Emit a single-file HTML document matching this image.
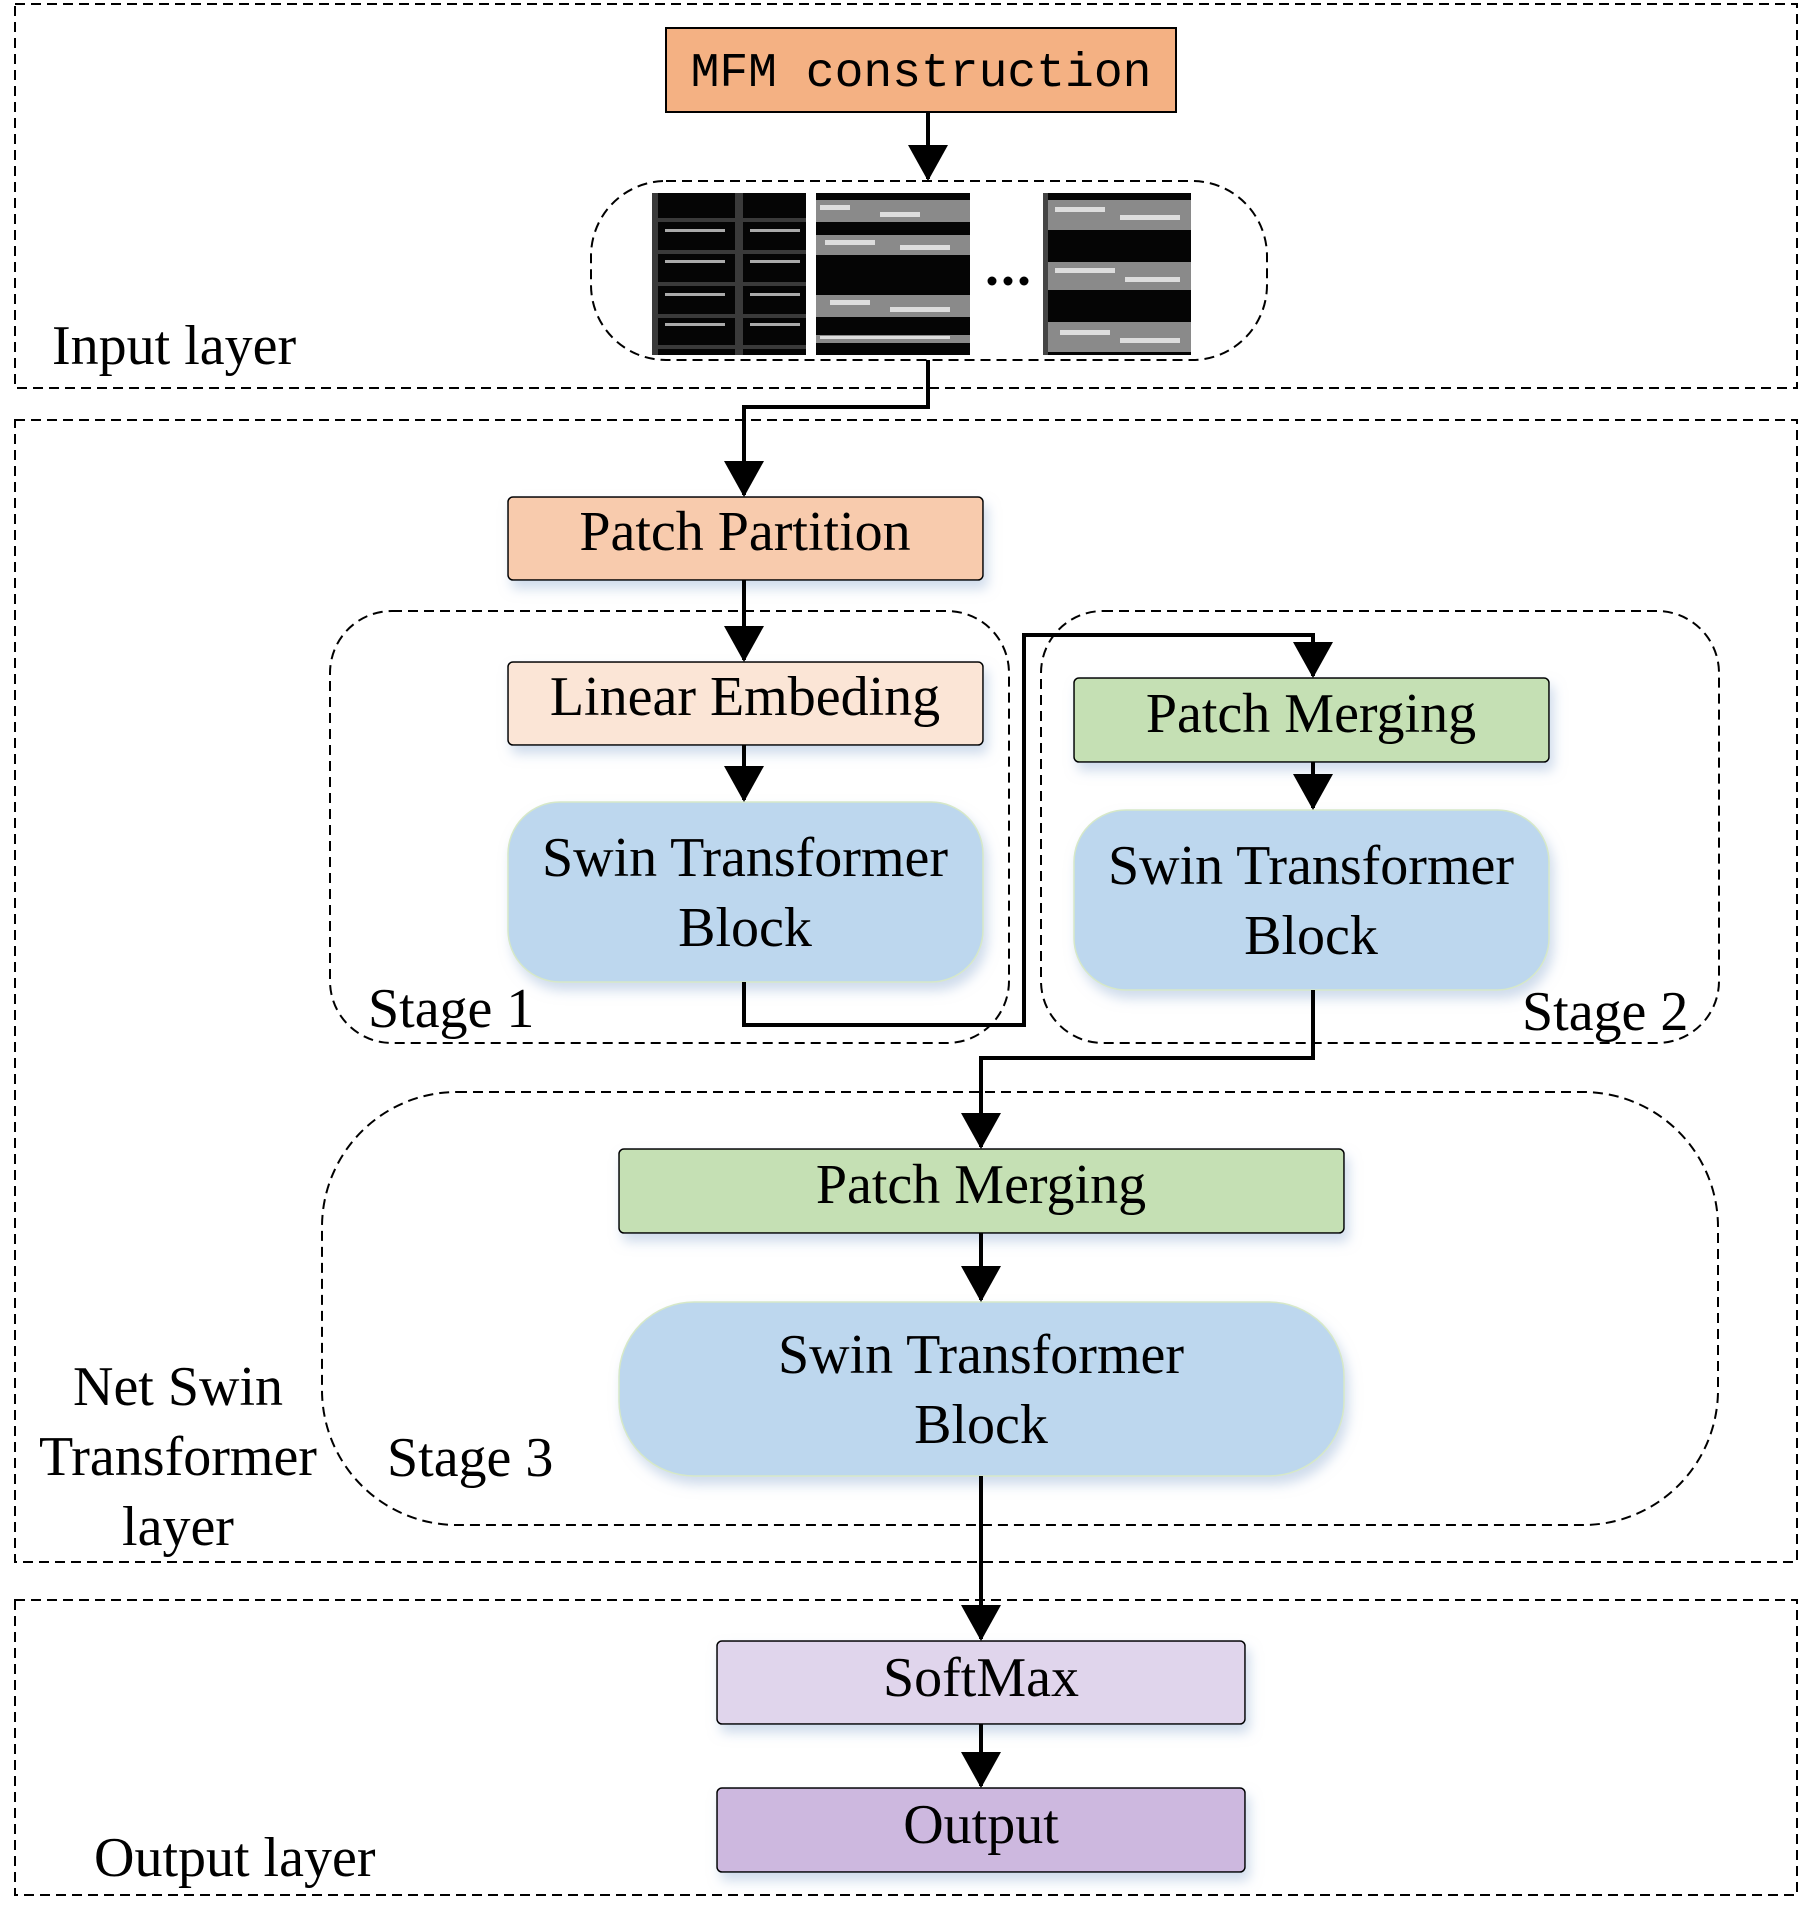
<!DOCTYPE html>
<html><head><meta charset="utf-8"><style>
html,body{margin:0;padding:0;background:#fff;}
svg{display:block;}
text{font-family:"Liberation Serif",serif;font-size:56px;fill:#000;}
.m{font-family:"Liberation Mono",monospace;font-size:48px;}
</style></head><body>
<svg width="1816" height="1925" viewBox="0 0 1816 1925" xmlns="http://www.w3.org/2000/svg">
<defs>
<marker id="a" markerWidth="9" markerHeight="10" refX="8.5" refY="5" orient="auto" markerUnits="strokeWidth">
<path d="M0,0 L9,5 L0,10 z" fill="#000"/></marker>
<filter id="sh" x="-10%" y="-10%" width="130%" height="140%"><feDropShadow dx="4" dy="8" stdDeviation="6" flood-color="#9fb8d8" flood-opacity="0.5"/></filter>
</defs>
<g fill="none" stroke="#000" stroke-width="2" stroke-dasharray="10,6">
<rect x="15" y="4" width="1782" height="384"/>
<rect x="15" y="420" width="1782" height="1142"/>
<rect x="15" y="1600" width="1782" height="295"/>
<rect x="591" y="181" width="676" height="179" rx="75"/>
<rect x="330" y="611" width="679" height="432" rx="62"/>
<rect x="1041" y="611" width="678" height="432" rx="62"/>
<rect x="322" y="1092" width="1396" height="433" rx="135"/>
</g>
<!-- images -->
<g>
<rect x="652" y="193" width="154" height="162" fill="#050505"/>
<g fill="#3a3a3a"><rect x="652" y="193" width="6" height="162"/><rect x="735" y="193" width="8" height="162"/>
<rect x="652" y="218" width="154" height="4"/><rect x="652" y="250" width="154" height="4"/><rect x="652" y="282" width="154" height="4"/><rect x="652" y="314" width="154" height="4"/><rect x="652" y="345" width="154" height="4"/></g>
<g fill="#aaa"><rect x="665" y="229" width="60" height="3"/><rect x="750" y="229" width="50" height="3"/><rect x="665" y="260" width="60" height="3"/><rect x="750" y="260" width="50" height="3"/><rect x="665" y="293" width="60" height="3"/><rect x="750" y="293" width="50" height="3"/><rect x="665" y="323" width="60" height="3"/><rect x="750" y="323" width="50" height="3"/></g>
<rect x="816" y="193" width="154" height="162" fill="#050505"/>
<g fill="#8a8a8a"><rect x="816" y="200" width="154" height="22"/><rect x="816" y="235" width="154" height="20"/><rect x="816" y="295" width="154" height="22"/><rect x="816" y="335" width="154" height="8"/></g>
<g fill="#ddd"><rect x="820" y="205" width="30" height="5"/><rect x="880" y="212" width="40" height="5"/><rect x="825" y="240" width="50" height="5"/><rect x="900" y="245" width="50" height="5"/><rect x="830" y="300" width="40" height="5"/><rect x="890" y="307" width="60" height="5"/><rect x="820" y="336" width="130" height="3"/></g>
<rect x="1043" y="193" width="148" height="162" fill="#050505"/>
<g fill="#8a8a8a"><rect x="1048" y="200" width="143" height="30"/><rect x="1048" y="262" width="143" height="28"/><rect x="1048" y="322" width="143" height="30"/></g>
<g fill="#ddd"><rect x="1055" y="207" width="50" height="5"/><rect x="1120" y="215" width="60" height="5"/><rect x="1055" y="268" width="60" height="5"/><rect x="1125" y="277" width="55" height="5"/><rect x="1060" y="330" width="50" height="5"/><rect x="1120" y="338" width="60" height="5"/></g>
<rect x="1043" y="193" width="5" height="162" fill="#444"/>
<circle cx="992" cy="281" r="4.5" fill="#000"/><circle cx="1008" cy="281" r="4.5" fill="#000"/><circle cx="1024" cy="281" r="4.5" fill="#000"/>
</g>
<!-- boxes -->
<rect x="666" y="28" width="510" height="84" fill="#f4b183" stroke="#000" stroke-width="2"/>
<text class="m" x="921" y="86" text-anchor="middle">MFM construction</text>
<g filter="url(#sh)">
<rect x="508" y="497" width="475" height="83" rx="5" fill="#f8cbad" stroke="#000" stroke-width="1.5"/>
<rect x="508" y="662" width="475" height="83" rx="5" fill="#fbe5d6" stroke="#000" stroke-width="1.5"/>
<rect x="508" y="802" width="475" height="180" rx="52" fill="#bdd7ee" stroke="#d6e8c8" stroke-width="1.5"/>
<rect x="1074" y="678" width="475" height="84" rx="5" fill="#c5e0b4" stroke="#000" stroke-width="1.5"/>
<rect x="1074" y="810" width="475" height="180" rx="52" fill="#bdd7ee" stroke="#d6e8c8" stroke-width="1.5"/>
<rect x="619" y="1149" width="725" height="84" rx="5" fill="#c5e0b4" stroke="#000" stroke-width="1.5"/>
<rect x="619" y="1302" width="725" height="174" rx="75" fill="#bdd7ee" stroke="#d6e8c8" stroke-width="1.5"/>
<rect x="717" y="1641" width="528" height="83" rx="5" fill="#e0d5ec" stroke="#000" stroke-width="1.5"/>
<rect x="717" y="1788" width="528" height="84" rx="5" fill="#cdb8df" stroke="#000" stroke-width="1.5"/>
</g>
<g text-anchor="middle">
<text x="745" y="550">Patch Partition</text>
<text x="745" y="715">Linear Embeding</text>
<text x="745" y="876">Swin Transformer</text>
<text x="745" y="946">Block</text>
<text x="1311" y="732">Patch Merging</text>
<text x="1311" y="884">Swin Transformer</text>
<text x="1311" y="954">Block</text>
<text x="981" y="1203">Patch Merging</text>
<text x="981" y="1373">Swin Transformer</text>
<text x="981" y="1443">Block</text>
<text x="981" y="1696">SoftMax</text>
<text x="981" y="1843">Output</text>
<text x="178" y="1405">Net Swin</text>
<text x="178" y="1475">Transformer</text>
<text x="178" y="1545">layer</text>
</g>
<text x="52" y="364">Input layer</text>
<text x="368" y="1027">Stage 1</text>
<text x="1522" y="1030">Stage 2</text>
<text x="387" y="1476">Stage 3</text>
<text x="94" y="1876">Output layer</text>
<!-- connectors -->
<g fill="none" stroke="#000" stroke-width="4" marker-end="url(#a)">
<path d="M928,112 V179"/>
<path d="M928,360 V407 H744 V495"/>
<path d="M744,580 V660"/>
<path d="M744,745 V800"/>
<path d="M744,982 V1025 H1024 V635 H1313 V676"/>
<path d="M1313,762 V808"/>
<path d="M1313,990 V1058 H981 V1147"/>
<path d="M981,1233 V1300"/>
<path d="M981,1476 V1639"/>
<path d="M981,1724 V1786"/>
</g>
</svg>
</body></html>
